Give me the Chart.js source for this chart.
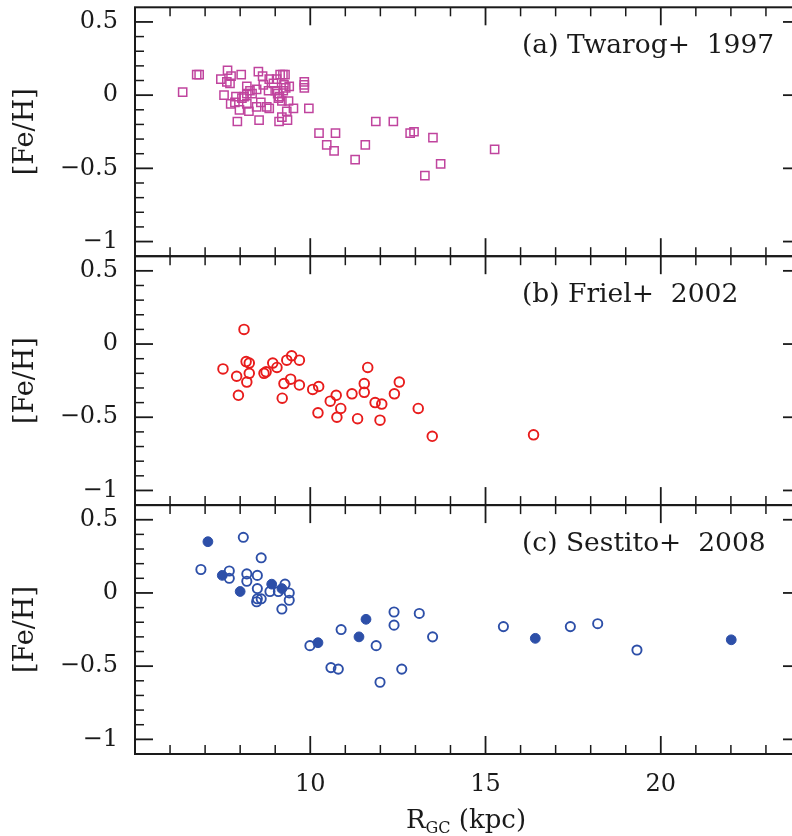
<!DOCTYPE html>
<html>
<head>
<meta charset="utf-8">
<script src="https://cdn.jsdelivr.net/npm/chart.js@4.4.1/dist/chart.umd.min.js"></script>
<style>
  html, body { margin: 0; padding: 0; background: #fff; }
  #wrap { width: 792px; height: 836px; overflow: hidden; position: relative; }
  canvas { display: block; }
</style>
</head>
<body>
<div id="wrap"><canvas id="chart" width="810" height="836"></canvas></div>
<script>
// (a) Twarog+ 1997
const twarogR = [6.36, 6.76, 6.83, 7.45, 7.64, 7.74, 7.62, 7.71, 7.54, 7.73, 7.92, 7.88, 8.03, 7.98, 8.05, 8.11, 8.19, 8.19, 8.28, 8.34,
  7.85, 8.19, 8.25, 8.47, 8.52, 8.64, 8.47, 8.59, 8.54, 8.66, 8.76, 8.83, 8.83, 8.81, 8.95, 9.04, 9.14, 9.22, 9.28, 9.0,
  9.07, 9.12, 9.09, 9.19, 9.25, 9.3, 9.4, 9.23, 9.38, 9.33, 9.19, 9.35, 9.11, 9.52, 9.83, 9.83, 9.83, 9.96, 10.25, 10.47,
  10.68, 10.72, 11.28, 11.57, 11.87, 12.37, 12.85, 12.96, 13.27, 13.5, 13.72, 15.26];
const twarogFeH = [0.02, 0.14, 0.14, 0.11, 0.17, 0.13, 0.09, 0.08, 0.0, -0.06, -0.18, -0.01, 0.14, -0.10, -0.02, -0.01, 0.01, 0.06, 0.03, 0.01,
  -0.05, -0.06, -0.11, 0.04, 0.16, 0.13, -0.08, -0.05, -0.17, 0.07, -0.08, -0.09, 0.11, 0.03, 0.08, 0.11, 0.14, 0.14, 0.14, 0.03,
  0.01, -0.01, -0.02, -0.04, 0.07, 0.05, 0.06, 0.03, -0.04, -0.11, -0.15, -0.17, -0.18, -0.09, 0.09, 0.07, 0.05, -0.09, -0.26, -0.34,
  -0.38, -0.26, -0.44, -0.34, -0.18, -0.18, -0.26, -0.25, -0.55, -0.29, -0.47, -0.37];

// (b) Friel+ 2002
const frielR = [7.51, 8.11, 8.17, 8.26, 7.90, 8.26, 8.19, 7.95, 8.68, 8.74, 8.93, 9.05, 9.33, 9.47, 9.69, 9.25, 9.44, 9.69, 9.20, 10.07,
  10.24, 10.22, 10.57, 10.74, 10.87, 10.76, 11.19, 11.35, 11.54, 11.54, 11.64, 11.85, 12.04, 11.99, 12.40, 12.54, 13.08, 13.48, 16.37];
const frielFeH = [-0.17, 0.10, -0.12, -0.13, -0.22, -0.20, -0.26, -0.35, -0.20, -0.19, -0.13, -0.16, -0.11, -0.08, -0.11, -0.27, -0.24, -0.28, -0.37, -0.31,
  -0.29, -0.47, -0.39, -0.35, -0.44, -0.50, -0.34, -0.51, -0.27, -0.33, -0.16, -0.40, -0.41, -0.52, -0.34, -0.26, -0.44, -0.63, -0.62];

// (c) Sestito+ 2008, open and filled symbols
const sestitoOpenR = [6.88, 8.09, 8.60, 7.69, 7.69, 8.19, 8.19, 8.49, 8.49, 8.49, 8.47, 8.60, 8.85, 9.09, 9.28, 9.40, 9.40, 9.19, 9.99, 10.59,
  10.80, 10.88, 11.88, 11.99, 12.39, 12.39, 12.61, 13.11, 13.49, 15.51, 17.42, 18.20, 19.32];
const sestitoOpenFeH = [0.16, 0.38, 0.24, 0.15, 0.10, 0.13, 0.08, 0.12, 0.03, -0.04, -0.06, -0.04, 0.01, 0.01, 0.06, 0.00, -0.05, -0.11, -0.36, -0.51,
  -0.52, -0.25, -0.36, -0.61, -0.13, -0.22, -0.52, -0.14, -0.30, -0.23, -0.23, -0.21, -0.39];
const sestitoFilledR = [7.08, 7.49, 8.00, 8.90, 9.19, 10.22, 11.39, 11.59, 16.42, 22.01];
const sestitoFilledFeH = [0.35, 0.12, 0.01, 0.06, 0.03, -0.34, -0.30, -0.18, -0.31, -0.32];

// axes
const xMajorTicks = [10, 15, 20];
const xMinorTicks = [6, 7, 8, 9, 11, 12, 13, 14, 16, 17, 18, 19, 21, 22, 23];
const yMajorTicks = [-1, -0.5, 0, 0.5];
const yMinorTicks = [-0.9, -0.8, -0.7, -0.6, -0.4, -0.3, -0.2, -0.1, 0.1, 0.2, 0.3, 0.4];
const panelLabels = ['(a) Twarog+  1997', '(b) Friel+  2002', '(c) Sestito+  2008'];

const FONT = '"DejaVu Serif", serif';
const INK = '#1a1a1a';

const pts = (xs, ys) => xs.map((x, i) => ({ x: x, y: ys[i] }));

// no extra room for half tick labels: the frame sits right at the layout padding
function noPad(s) {
    s.paddingTop = 0;
    s.paddingBottom = 0;
    s.paddingLeft = 0;
    s.paddingRight = 0;
}

function yAxis(weight) {
    return {
        type: 'linear',
        position: 'left',
        stack: 'feh',
        stackWeight: 1,
        weight: weight,
        min: -1.1,
        max: 0.6,
        afterBuildTicks: s => { s.ticks = yMajorTicks.map(v => ({ value: v })); },
        afterFit: s => { s.width = 135; noPad(s); },
        grid: { display: false, drawTicks: false },
        border: { display: false },
        ticks: {
            padding: 17,
            color: INK,
            font: { family: FONT, size: 24 },
            callback: v => String(v).replace('-', '\u2212')
        },
        title: {
            display: true,
            text: '[Fe/H]',
            color: INK,
            font: { family: FONT, size: 27 },
            padding: { top: 10, bottom: 0 }
        }
    };
}

// frame, inner ticks, panel labels and x title
const framePlugin = {
    id: 'framePlugin',
    afterDatasetsDraw(chart) {
        const ctx = chart.ctx;
        const xs = chart.scales.x;
        const left = xs.left, right = xs.right;
        const line = (x1, y1, x2, y2) => { ctx.beginPath(); ctx.moveTo(x1, y1); ctx.lineTo(x2, y2); ctx.stroke(); };
        ctx.save();
        ctx.strokeStyle = INK;
        ['ya', 'yb', 'yc'].forEach((id, k) => {
            const ys = chart.scales[id];
            const top = ys.top, bottom = ys.bottom;
            ctx.lineWidth = 2;
            ctx.strokeRect(left, top, right - left, bottom - top);
            ctx.lineWidth = 1.8;
            xMajorTicks.forEach(v => {
                const px = xs.getPixelForValue(v);
                line(px, top, px, top + 18);
                line(px, bottom, px, bottom - 18);
            });
            yMajorTicks.forEach(v => {
                const py = ys.getPixelForValue(v);
                line(left, py, left + 18, py);
                line(right, py, right - 18, py);
            });
            ctx.lineWidth = 1.5;
            xMinorTicks.forEach(v => {
                const px = xs.getPixelForValue(v);
                line(px, top, px, top + 9);
                line(px, bottom, px, bottom - 9);
            });
            yMinorTicks.forEach(v => {
                const py = ys.getPixelForValue(v);
                line(left, py, left + 9, py);
                line(right, py, right - 9, py);
            });
            ctx.fillStyle = INK;
            ctx.font = '26.5px ' + FONT;
            ctx.textAlign = 'left';
            ctx.textBaseline = 'alphabetic';
            ctx.fillText(panelLabels[k], 522, top + 46);
        });

        // R_GC (kpc)
        ctx.fillStyle = INK;
        ctx.textBaseline = 'alphabetic';
        ctx.textAlign = 'left';
        const base = 828;
        ctx.font = '26px ' + FONT;
        const wR = ctx.measureText('R').width;
        const wRest = ctx.measureText(' (kpc)').width;
        ctx.font = '16px ' + FONT;
        const wGC = ctx.measureText('GC').width;
        const x0 = 466 - (wR + wGC + wRest) / 2;
        ctx.font = '26px ' + FONT;
        ctx.fillText('R', x0, base);
        ctx.font = '16px ' + FONT;
        ctx.fillText('GC', x0 + wR, base + 5);
        ctx.font = '26px ' + FONT;
        ctx.fillText(' (kpc)', x0 + wR + wGC, base);
        ctx.restore();
    }
};

const magenta = '#c0449e';
const red = '#e81c1c';
const blue = '#2d4fa8';

new Chart(document.getElementById('chart'), {
    type: 'scatter',
    data: {
        datasets: [
            {
                label: 'Twarog+ 1997',
                data: pts(twarogR, twarogFeH),
                yAxisID: 'ya',
                pointStyle: 'rect',
                pointRadius: 5.8,
                borderWidth: 1.5,
                borderColor: magenta,
                backgroundColor: 'rgba(0,0,0,0)'
            },
            {
                label: 'Friel+ 2002',
                data: pts(frielR, frielFeH),
                yAxisID: 'yb',
                pointStyle: 'circle',
                pointRadius: 4.8,
                borderWidth: 1.9,
                borderColor: red,
                backgroundColor: 'rgba(0,0,0,0)'
            },
            {
                label: 'Sestito+ 2008 (open)',
                data: pts(sestitoOpenR, sestitoOpenFeH),
                yAxisID: 'yc',
                pointStyle: 'circle',
                pointRadius: 4.6,
                borderWidth: 1.9,
                borderColor: blue,
                backgroundColor: 'rgba(0,0,0,0)'
            },
            {
                label: 'Sestito+ 2008 (filled)',
                data: pts(sestitoFilledR, sestitoFilledFeH),
                yAxisID: 'yc',
                pointStyle: 'circle',
                pointRadius: 4.9,
                borderWidth: 1,
                borderColor: blue,
                backgroundColor: blue
            }
        ]
    },
    options: {
        responsive: false,
        animation: false,
        layout: { padding: { top: 7, right: 9, bottom: 0, left: 0 } },
        plugins: {
            legend: { display: false },
            tooltip: { enabled: false }
        },
        scales: {
            x: {
                type: 'linear',
                position: 'bottom',
                min: 5,
                max: 24,
                afterBuildTicks: s => { s.ticks = xMajorTicks.map(v => ({ value: v })); },
                afterFit: s => { s.height = 82; noPad(s); },
                grid: { display: false, drawTicks: false },
                border: { display: false },
                ticks: {
                    padding: 16,
                    color: INK,
                    maxRotation: 0,
                    autoSkip: false,
                    font: { family: FONT, size: 24 }
                }
            },
            ya: yAxis(3),
            yb: yAxis(2),
            yc: yAxis(1)
        }
    },
    plugins: [framePlugin]
});
</script>
</body>
</html>
